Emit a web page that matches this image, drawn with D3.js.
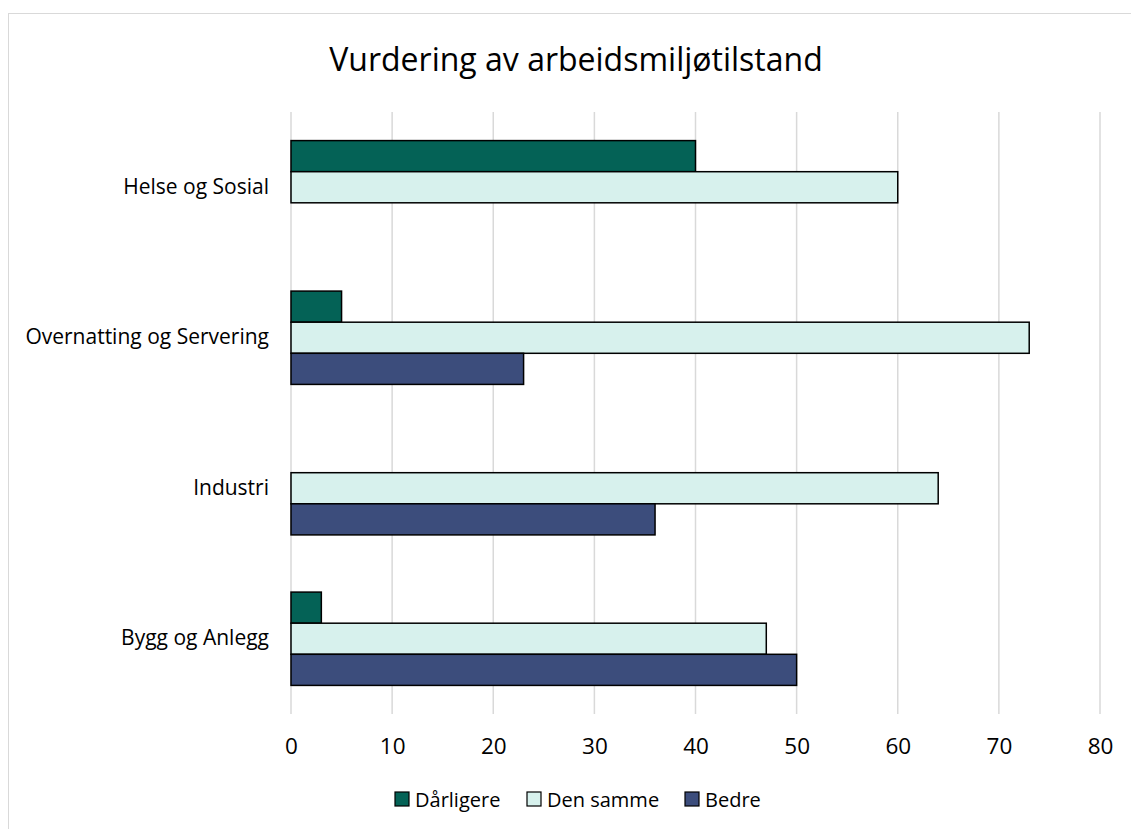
<!DOCTYPE html>
<html>
<head>
<meta charset="utf-8">
<title>Vurdering av arbeidsmiljøtilstand</title>
<style>
  body { margin: 0; background: #fff; }
  svg text { font-family: "Open Sans", "Noto Sans", sans-serif; fill: #000; }
</style>
</head>
<body>
<script src="https://cdn.jsdelivr.net/npm/d3@7"></script>
<script>
  var categories = ["Helse og Sosial", "Overnatting og Servering", "Industri", "Bygg og Anlegg"];
  var seriesNames = ["Dårligere", "Den samme", "Bedre"];
  var darligere = [40, 5, 0, 3];
  var denSamme = [60, 73, 64, 47];
  var bedre = [0, 23, 36, 50];
  var xTicks = [0, 10, 20, 30, 40, 50, 60, 70, 80];
  var colors = ["#046256", "#d7f1ed", "#3c4d7c"];

  var values = [darligere, denSamme, bedre];

  var w = 1131, h = 829;
  var margin = { left: 291, right: 31, top: 112, bottom: 115 };

  var svg = d3.select("body").append("svg")
      .attr("width", w)
      .attr("height", h);

  // chart border
  svg.append("rect")
      .attr("x", 8.5).attr("y", 13.5)
      .attr("width", w).attr("height", h)
      .attr("fill", "none")
      .attr("stroke", "#d9d9d9");

  svg.append("text")
      .attr("x", 576)
      .attr("y", 71)
      .attr("text-anchor", "middle")
      .attr("font-size", "32px")
      .text("Vurdering av arbeidsmiljøtilstand");

  var x = d3.scaleLinear()
      .domain([0, 80])
      .range([margin.left, w - margin.right]);

  var y = d3.scaleBand()
      .domain(categories)
      .range([margin.top, h - margin.bottom])
      .paddingInner(0.38)
      .paddingOuter(0.19);

  var ySub = d3.scaleBand()
      .domain(seriesNames)
      .range([0, y.bandwidth()]);

  // gridlines
  svg.append("g")
    .selectAll("line")
    .data(xTicks)
    .enter()
    .append("line")
      .attr("x1", function(d) { return x(d); })
      .attr("x2", function(d) { return x(d); })
      .attr("y1", margin.top)
      .attr("y2", h - margin.bottom)
      .attr("stroke", "#d9d9d9")
      .attr("stroke-width", 1.5);

  // x tick labels
  var xAxis = svg.append("g")
      .attr("transform", "translate(0," + (h - margin.bottom) + ")")
      .call(d3.axisBottom(x).tickValues(xTicks).tickSize(0).tickPadding(24));
  xAxis.select(".domain").remove();
  xAxis.selectAll("text").attr("font-size", "22.5px").attr("font-family", null);

  // category labels
  var yAxis = svg.append("g")
      .attr("transform", "translate(" + margin.left + ",0)")
      .call(d3.axisLeft(y).tickSize(0).tickPadding(22));
  yAxis.select(".domain").remove();
  yAxis.selectAll("text").attr("font-size", "21px").attr("font-family", null);

  // bars
  var groups = svg.append("g")
    .selectAll("g")
    .data(categories)
    .enter()
    .append("g")
      .attr("transform", function(d) { return "translate(0," + y(d) + ")"; });

  groups.selectAll("rect")
    .data(function(d, i) {
      return seriesNames.map(function(s, j) { return { s: s, j: j, v: values[j][i] }; })
        .filter(function(e) { return e.v > 0; });
    })
    .enter()
    .append("rect")
      .attr("x", x(0))
      .attr("y", function(d) { return ySub(d.s); })
      .attr("width", function(d) { return x(d.v) - x(0); })
      .attr("height", ySub.bandwidth())
      .attr("fill", function(d) { return colors[d.j]; })
      .attr("stroke", "#000")
      .attr("stroke-width", 1.5);

  // legend
  var legendX = [395, 527, 685];
  var legend = svg.append("g")
    .selectAll("g")
    .data(seriesNames)
    .enter()
    .append("g")
      .attr("transform", function(d, i) { return "translate(" + legendX[i] + ",792)"; });
  legend.append("rect")
      .attr("width", 14).attr("height", 14)
      .attr("fill", function(d, i) { return colors[i]; })
      .attr("stroke", "#000")
      .attr("stroke-width", 1.2);
  legend.append("text")
      .attr("x", 20)
      .attr("y", 15)
      .attr("font-size", "20px")
      .text(function(d) { return d; });
</script>
</body>
</html>
